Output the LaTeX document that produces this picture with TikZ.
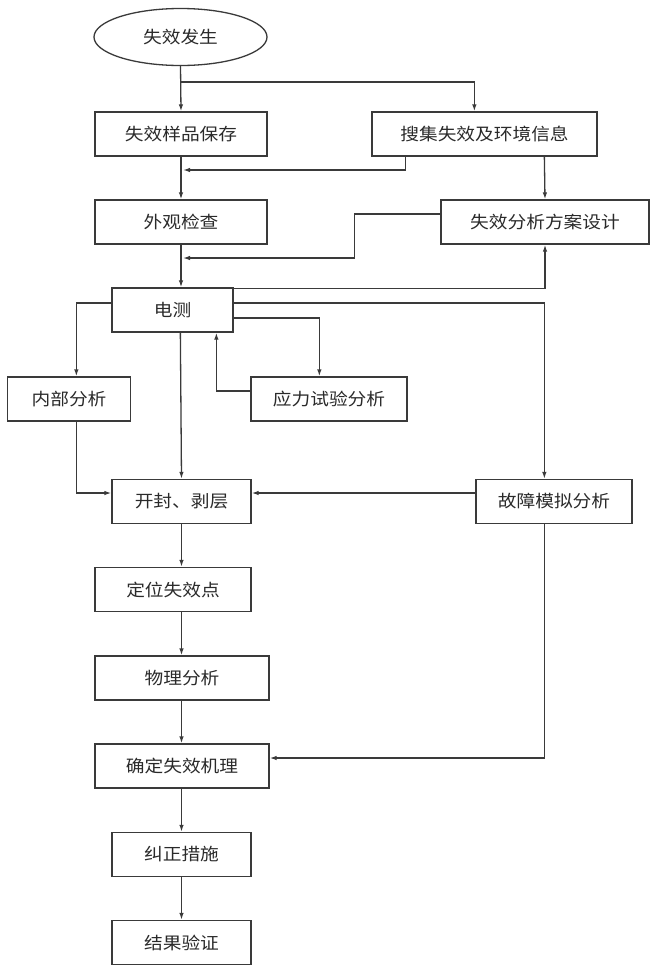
\documentclass[tikz,border=0pt]{standalone}
\usepackage{fontspec}
\newfontfamily\cjk[FakeStretch=1.1]{Noto Sans CJK SC}
\usetikzlibrary{shapes.geometric,arrows.meta}
\definecolor{ln}{HTML}{3A3A3A}
\definecolor{tx}{HTML}{2A2A2A}
\begin{document}
\begin{tikzpicture}[x=1pt,y=-1pt,
  box/.style={draw=ln,line width=1.3pt,rectangle,minimum height=44pt,inner sep=0pt,
    font=\cjk\fontsize{17}{17}\selectfont,text=tx},
  arr/.style={draw=ln,line width=1.3pt,-{Latex[length=7pt,width=4.5pt]}},
  ln/.style={draw=ln,line width=1.3pt}]
\useasboundingbox (0,0) rectangle (650,967);
\fill[white] (0,0) rectangle (650,967);
% nodes
\node[box,ellipse,minimum width=173pt,minimum height=57pt] (ell) at (180.5,37) {失效发生};
\node[box,minimum width=172pt] (sample) at (181,134) {失效样品保存};
\node[box,minimum width=225pt] (collect) at (484.5,134) {搜集失效及环境信息};
\node[box,minimum width=172pt] (look) at (181,222) {外观检查};
\node[box,minimum width=208pt] (plan) at (545,222) {失效分析方案设计};
\node[box,minimum width=121pt] (ece) at (172.5,310) {电测};
\node[box,minimum width=123pt] (inner) at (69,399) {内部分析};
\node[box,minimum width=156pt] (stress) at (329,399) {应力试验分析};
\node[box,minimum width=139pt] (open) at (181.5,501.5) {开封、剥层};
\node[box,minimum width=156pt] (fault) at (554,501.5) {故障模拟分析};
\node[box,minimum width=156pt] (locate) at (173,589.5) {定位失效点};
\node[box,minimum width=174pt] (phys) at (182,678) {物理分析};
\node[box,minimum width=174pt] (mech) at (182,766) {确定失效机理};
\node[box,minimum width=139pt] (fix) at (181.5,854.5) {纠正措施};
\node[box,minimum width=139pt] (verify) at (181.5,942.5) {结果验证};
% coordinates on main column
\coordinate (m1) at (181,82);
\coordinate (m2) at (183,170);
\coordinate (m3) at (183,258);
% connectors
\draw[arr] (ell.south |- 0,65) -- (sample.north);
\draw[arr] (m1) -| ([xshift=103pt]collect.north west);
\draw[arr] (sample.south) -- (look.north);
\draw[arr] ([xshift=34pt]collect.south west) |- (m2);
\draw[arr] ([xshift=173pt]collect.south west) -- (plan.north);
\draw[arr] (look.south) -- (look.south |- ece.north);
\draw[arr] ([yshift=8pt]plan.west) -- ++(-86,0) |- (m3);
\draw[arr] ([yshift=-1pt]ece.north east) -| (plan.south);
\draw[arr] ([yshift=7pt]ece.west) -| ([xshift=69.5pt]inner.north west);
\draw[arr] ([yshift=7pt]ece.east) -| ([xshift=69pt]fault.north west);
\draw[arr] ([yshift=-8pt]ece.east) -| ([xshift=69pt]stress.north west);
\draw[arr] ([yshift=8pt]stress.west) -| ([xshift=105pt]ece.south west);
\draw[arr] ([xshift=69pt]ece.south west) -- (open.north);
\draw[arr] ([xshift=69.5pt]inner.south west) |- ([yshift=8.5pt]open.west);
\draw[arr] ([yshift=8.5pt]fault.west) -- ([yshift=8.5pt]open.east);
\draw[arr] (open.south) -- (open.south |- locate.north);
\draw[arr] (open.south |- locate.south) -- (open.south |- phys.north);
\draw[arr] (open.south |- phys.south) -- (open.south |- mech.north);
\draw[arr] (open.south |- mech.south) -- (fix.north);
\draw[arr] (fix.south) -- (verify.north);
\draw[arr] ([xshift=69pt]fault.south west) |- ([yshift=8pt]mech.east);
\end{tikzpicture}
\end{document}
